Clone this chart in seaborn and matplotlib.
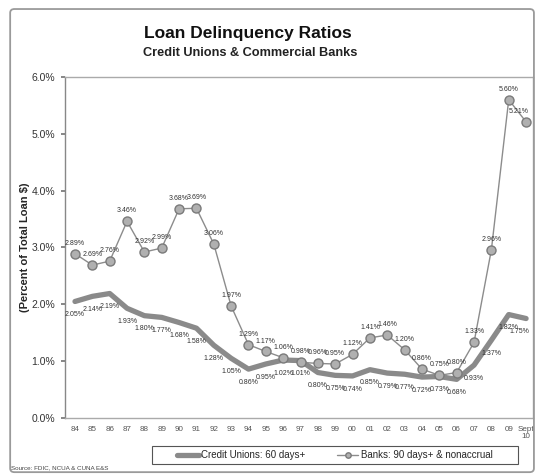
import matplotlib
matplotlib.use("Agg")
import matplotlib.pyplot as plt
import seaborn as sns
import pandas as pd
from matplotlib.patches import FancyBboxPatch, Rectangle

years = ["84", "85", "86", "87", "88", "89", "90", "91", "92", "93", "94", "95", "96",
         "97", "98", "99", "00", "01", "02", "03", "04", "05", "06", "07", "08", "09", "Sept\n10"]
credit_unions = [2.05, 2.14, 2.19, 1.93, 1.80, 1.77, 1.68, 1.58, 1.28, 1.05, 0.86, 0.95, 1.02,
                 1.01, 0.80, 0.75, 0.74, 0.85, 0.79, 0.77, 0.72, 0.73, 0.68, 0.93, 1.37, 1.82, 1.75]
banks = [2.89, 2.69, 2.76, 3.46, 2.92, 2.99, 3.68, 3.69, 3.06, 1.97, 1.29, 1.17, 1.06,
         0.98, 0.96, 0.95, 1.12, 1.41, 1.46, 1.20, 0.86, 0.75, 0.80, 1.33, 2.96, 5.60, 5.21]
yticks = [0, 1, 2, 3, 4, 5, 6]

sns.set_theme(style="white")
plt.rcParams["font.family"] = ["Liberation Sans", "DejaVu Sans"]

df = pd.DataFrame({"idx": range(len(years)), "cu": credit_unions, "bank": banks})

W, H = 535, 475
fig = plt.figure(figsize=(W / 100, H / 100), dpi=100)
fig.patch.set_facecolor("white")
fig.patches.append(FancyBboxPatch((0.019, 0.006), 0.979, 0.975, boxstyle="round,pad=0,rounding_size=0.008",
                                  transform=fig.transFigure, fill=False, edgecolor="#9a9a9a", lw=1.3))

ax = fig.add_axes([0.1215, 0.12, 0.8748, 0.718])

sns.lineplot(data=df, x="idx", y="cu", ax=ax, color="#8a8a8a", lw=3.8,
             label="Credit Unions: 60 days+")
sns.lineplot(data=df, x="idx", y="bank", ax=ax, color="#8c8c8c", lw=1.0, marker="o",
             markersize=6.5, markerfacecolor="#b0b0b0", markeredgecolor="#7a7a7a",
             markeredgewidth=1.0, label="Banks: 90 days+ & nonaccrual")

last = len(years) - 1
for i, (c, b) in enumerate(zip(credit_unions, banks)):
    dx = -5 if i == last else 0
    ax.annotate(f"{c:.2f}%", (i, c), xytext=(dx, -7), textcoords="offset points",
                ha="center", va="top", fontsize=5, color="#333333")
    ax.annotate(f"{b:.2f}%", (i, b), xytext=(dx, 5), textcoords="offset points",
                ha="center", va="bottom", fontsize=5, color="#333333")

ax.set_xlim(-0.576, 26.4)
ax.set_ylim(0, 6)
ax.set_yticks(yticks)
ax.set_yticklabels([f"{t:.1f}%" for t in yticks], fontsize=7.5, color="#333333")
ax.set_xticks(range(len(years)))
ax.set_xticklabels(years, fontsize=5.8, color="#555555", linespacing=1.0)
ax.tick_params(axis="y", length=3, color="#777777", pad=4, left=True)
ax.tick_params(axis="x", length=0, pad=6)
ax.set_xlabel("")
ax.set_ylabel("(Percent of Total Loan $)", fontsize=8, fontweight="bold", labelpad=1)
for s in ax.spines.values():
    s.set_color("#aaaaaa")
    s.set_linewidth(1.0)
ax.spines["left"].set_color("#888888")

# legend box below the plot, entries centred inside it
ax.get_legend().remove()
handles, labels = ax.get_legend_handles_labels()
fig.patches.append(Rectangle((152 / W, (H - 464) / H), 366 / W, 18 / H, transform=fig.transFigure,
                             fill=False, edgecolor="#555555", lw=0.8))
fig.legend(handles, labels, loc="center", bbox_to_anchor=(335 / W, (H - 455) / H), ncol=2,
           frameon=False, handlelength=2.2, handletextpad=0.3, columnspacing=3.2,
           markerscale=0.6, borderaxespad=0, borderpad=0, prop={"size": 7})

fig.text(248 / W, 0.930, "Loan Delinquency Ratios", ha="center", va="center", fontsize=12.5,
         fontweight="bold", color="#111111")
fig.text(250 / W, 0.888, "Credit Unions & Commercial Banks", ha="center", va="center", fontsize=9.2,
         fontweight="bold", color="#222222")
fig.text(0.021, 0.013, "Source: FDIC, NCUA & CUNA E&S", fontsize=4.5, color="#444444")

fig.savefig("out.png", dpi=100, facecolor="white")
